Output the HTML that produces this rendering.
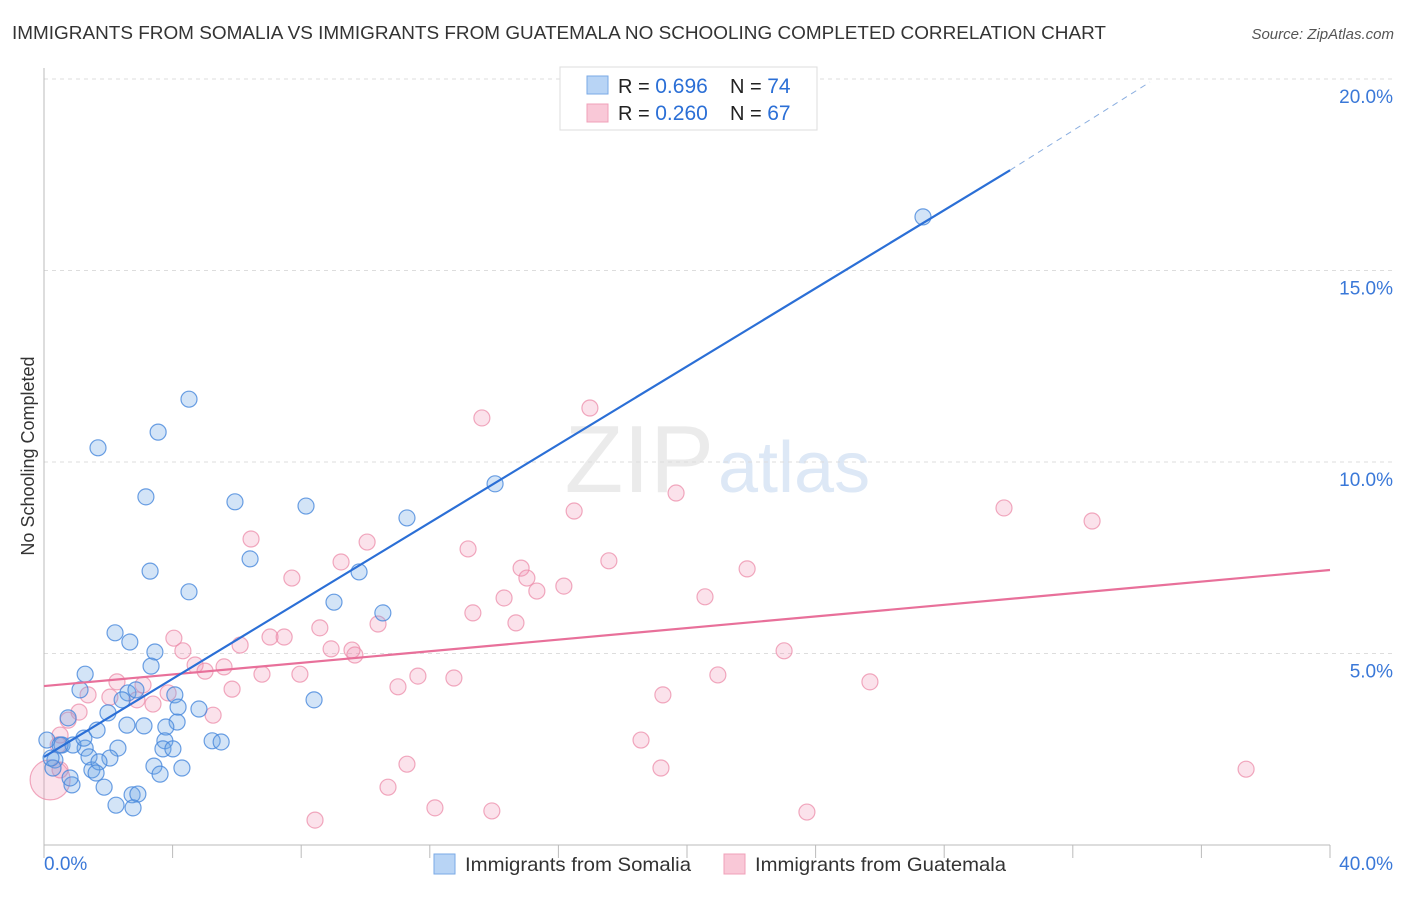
<!DOCTYPE html>
<html><head><meta charset="utf-8"><style>
body{margin:0;background:#fff;font-family:"Liberation Sans",sans-serif;}
svg text{font-family:"Liberation Sans",sans-serif;}
</style></head><body>
<svg id="chart" width="1406" height="892" xmlns="http://www.w3.org/2000/svg">
<text x="12" y="39" font-size="18" fill="#333" textLength="1094" lengthAdjust="spacingAndGlyphs">IMMIGRANTS FROM SOMALIA VS IMMIGRANTS FROM GUATEMALA NO SCHOOLING COMPLETED CORRELATION CHART</text>
<text x="1394" y="39" font-size="15" fill="#555" font-style="italic" text-anchor="end">Source: ZipAtlas.com</text>
<text transform="translate(34,456) rotate(-90)" font-size="18" fill="#333" text-anchor="middle">No Schooling Completed</text>
<text x="714" y="492" font-size="96" fill="#ebebeb" text-anchor="end" font-family="Liberation Serif">ZIP</text>
<text x="718" y="492" font-size="72" fill="#dde8f6">atlas</text>
<g id="grid"></g>
<g id="axes"></g>
<g id="pts"></g>
<g id="lines"></g>
<g>
<rect x="560" y="67" width="257" height="63" fill="#fff" stroke="#ddd"/>
<rect x="587" y="76" width="21" height="18" fill="#b8d4f5" stroke="#7aaae6"/>
<rect x="587" y="104" width="21" height="18" fill="#f9c8d7" stroke="#f0a0b8"/>
<text x="618" y="93" font-size="20" fill="#222">R = <tspan fill="#2b6fd6" font-size="21">0.696</tspan></text>
<text x="730" y="93" font-size="20" fill="#222">N = <tspan fill="#2b6fd6" font-size="21">74</tspan></text>
<text x="618" y="120" font-size="20" fill="#222">R = <tspan fill="#2b6fd6" font-size="21">0.260</tspan></text>
<text x="730" y="120" font-size="20" fill="#222">N = <tspan fill="#2b6fd6" font-size="21">67</tspan></text>
</g>
<g>
<rect x="434" y="854" width="21" height="20" fill="#b8d4f5" stroke="#7aaae6"/>
<text x="465" y="871" font-size="19.5" fill="#333" textLength="226" lengthAdjust="spacingAndGlyphs">Immigrants from Somalia</text>
<rect x="724" y="854" width="21" height="20" fill="#f9c8d7" stroke="#f0a0b8"/>
<text x="755" y="871" font-size="19.5" fill="#333" textLength="251" lengthAdjust="spacingAndGlyphs">Immigrants from Guatemala</text>
</g>
</svg>
<script>
const yTicks=[5,10,15,20];
const yTickLabels=["5.0%","10.0%","15.0%","20.0%"];
const xTickLabels=["0.0%","40.0%"];
const somaliaX=[27.34,4.51,3.55,1.68,3.17,5.94,8.15,11.29,14.03,3.30,6.41,9.80,4.51,9.02,10.54,2.21,2.67,3.45,3.33,1.28,1.12,2.61,4.07,2.86,4.17,4.82,8.40,0.75,1.99,1.65,2.58,3.11,4.14,3.79,1.28,0.56,0.90,0.34,0.28,1.40,2.30,2.05,1.49,3.76,3.70,4.01,5.23,5.51,3.42,4.29,3.61,1.87,0.87,2.74,2.92,2.24,2.77,0.22,0.09,0.50,1.24,1.71,1.62,2.43,0.81];
const somaliaY=[16.40,11.64,10.78,10.37,9.09,8.96,8.85,8.54,9.43,7.15,7.47,7.13,6.61,6.34,6.06,5.54,5.30,5.04,4.67,4.46,4.05,3.97,3.92,4.05,3.60,3.55,3.79,3.32,3.45,3.00,3.13,3.11,3.21,3.08,2.53,2.61,2.61,2.22,2.01,2.30,2.53,2.27,1.96,2.72,2.51,2.51,2.72,2.69,2.06,2.01,1.85,1.51,1.57,1.31,1.33,1.04,0.97,2.27,2.74,2.61,2.79,2.17,1.88,3.79,1.75];
const guatX=[16.98,13.62,19.66,16.49,29.86,32.60,6.44,10.05,13.19,9.24,7.71,14.84,15.02,17.57,21.87,16.17,15.33,14.31,13.34,20.56,14.68,8.58,10.39,4.04,7.03,6.10,7.47,4.32,8.93,9.58,9.67,23.02,4.70,5.60,5.01,6.78,7.96,11.63,12.75,11.01,2.27,3.08,5.85,20.96,25.69,19.25,1.37,2.05,2.89,3.39,3.86,1.09,5.26,18.57,19.19,11.29,10.70,37.39,12.16,13.93,23.73,8.43,0.75,0.50,0.44,0.19,0.50];
const guatY=[11.41,11.15,9.19,8.72,8.80,8.46,7.99,7.91,7.73,7.39,6.97,7.23,6.97,7.42,7.21,6.76,6.63,6.45,6.06,6.48,5.80,5.67,5.77,5.40,5.43,5.22,5.43,5.07,5.12,5.09,4.96,5.07,4.70,4.65,4.54,4.46,4.46,4.41,4.36,4.13,4.26,4.18,4.07,4.44,4.26,3.92,3.92,3.86,3.79,3.68,3.97,3.47,3.39,2.74,2.01,2.11,1.51,1.98,0.97,0.89,0.86,0.65,3.26,2.87,2.61,1.70,1.96];
const guatR=[8,8,8,8,8,8,8,8,8,8,8,8,8,8,8,8,8,8,8,8,8,8,8,8,8,8,8,8,8,8,8,8,8,8,8,8,8,8,8,8,8,8,8,8,8,8,8,8,8,8,8,8,8,8,8,8,8,8,8,8,8,8,8,8,8,20,8];
const somaliaTrend=[[0,2.30],[30.05,17.62]];
const somaliaTrendDash=[[30.05,17.62],[34.4,19.92]];
const guatTrend=[[0,4.15],[40,7.18]];
const NS="http://www.w3.org/2000/svg";
const X0=44,X1=1330,Y0=845,PY=38.3;
const sx=v=>X0+(X1-X0)*v/40;
const sy=v=>Y0-v*PY;
function mk(tag,attrs,parent){const e=document.createElementNS(NS,tag);for(const k in attrs)e.setAttribute(k,attrs[k]);document.getElementById(parent).appendChild(e);return e;}
yTicks.forEach((t,i)=>{
 const l=mk('line',{x1:X0,x2:1395,y1:sy(t),y2:sy(t),stroke:'#ddd','stroke-dasharray':'4,4'},'grid');
 
 
 const tx=mk('text',{x:1393,y:sy(t)+24,'font-size':19,fill:'#3a78d8','text-anchor':'end'},'grid');
 tx.textContent=yTickLabels[i];
 
 
});
const ax=mk('line',{x1:X0,x2:X0,y1:68,y2:Y0,stroke:'#bbb'},'axes');


const bx=mk('line',{x1:X0,x2:X1,y1:Y0,y2:Y0,stroke:'#bbb'},'axes');


for(let i=0;i<=10;i++){
 const t=mk('line',{x1:sx(i*4),x2:sx(i*4),y1:Y0,y2:Y0+13,stroke:'#bbb'},'axes');
 
 
}
[[0,'start'],[40,'end']].forEach((p,i)=>{
 const tx=mk('text',{x:i?1393:44,y:870,'font-size':19,fill:'#3a78d8','text-anchor':p[1]},'axes');
 tx.textContent=xTickLabels[i];
 
 
});
guatX.forEach((v,i)=>{
 const c=mk('circle',{cx:sx(v),cy:sy(guatY[i]),r:guatR[i],fill:'rgba(240,140,175,0.25)',stroke:'rgba(236,140,170,0.75)','stroke-width':1.2},'pts');
 
 
});
somaliaX.forEach((v,i)=>{
 const c=mk('circle',{cx:sx(v),cy:sy(somaliaY[i]),r:8,fill:'rgba(110,165,230,0.3)',stroke:'rgba(70,135,220,0.8)','stroke-width':1.2},'pts');
 
 
});
function line(d,col,w,dash,name){
 const l=mk('line',{x1:sx(d[0][0]),y1:sy(d[0][1]),x2:sx(d[1][0]),y2:sy(d[1][1]),stroke:col,'stroke-width':w},'lines');
 if(dash)l.setAttribute('stroke-dasharray',dash);
 
 
}
line(guatTrend,'#e8709a',2.2,null,'guatemala-trend-line');
line(somaliaTrend,'#2b6fd6',2.2,null,'somalia-trend-line');
line(somaliaTrendDash,'#8aaee0',1,'6,5','somalia-trend-extension');
</script>
</body></html>
